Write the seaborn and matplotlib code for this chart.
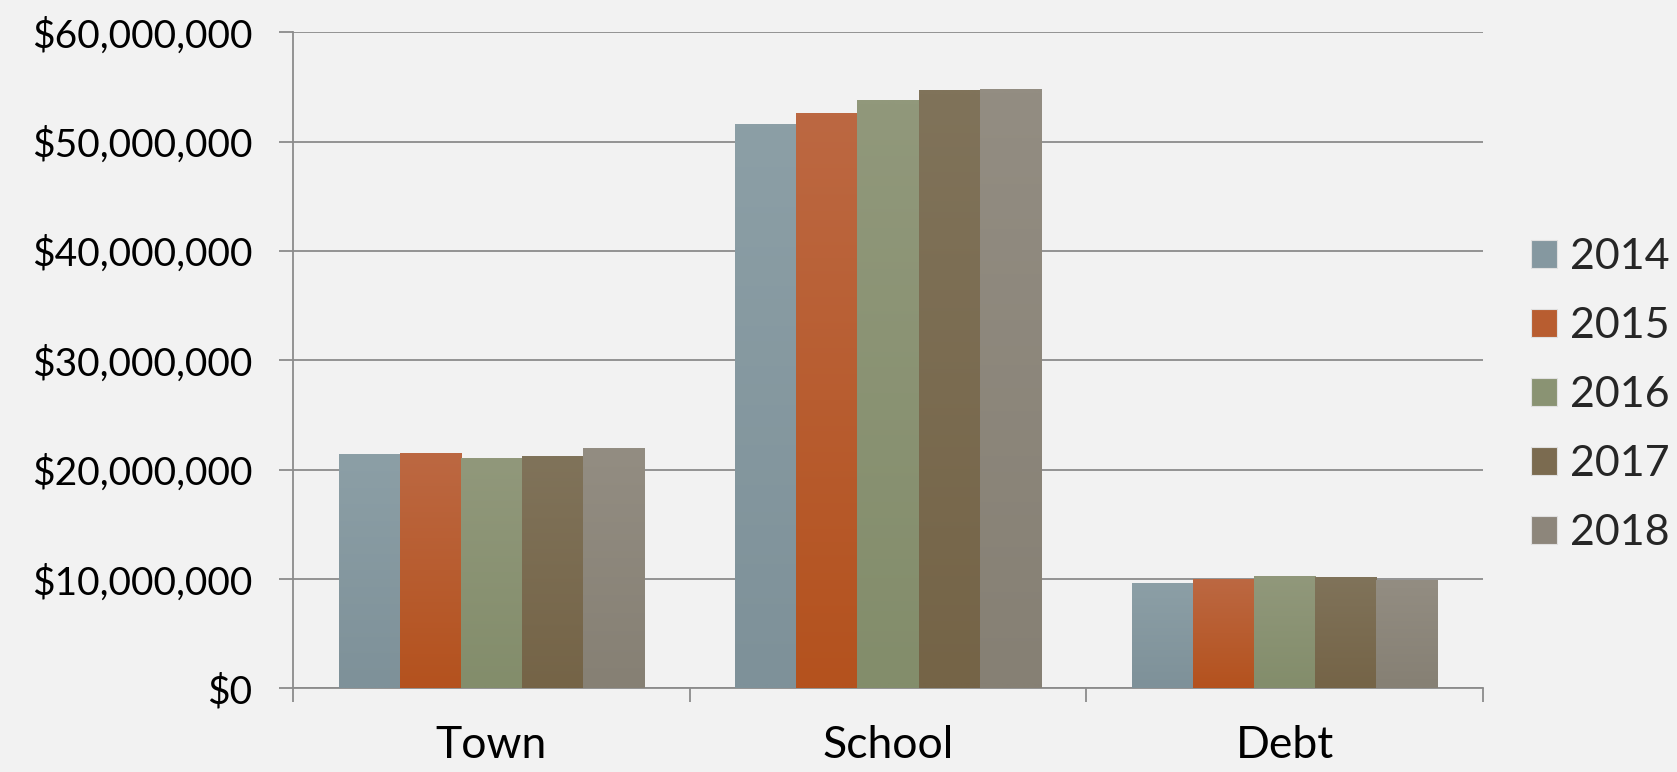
import numpy as np
import pandas as pd
import matplotlib
matplotlib.use("Agg")
import matplotlib.pyplot as plt
import matplotlib.colors as mcolors
from matplotlib.patches import Patch
from matplotlib.ticker import FuncFormatter, FixedLocator
import seaborn as sns

categories = ["Town", "School", "Debt"]
years = ["2014", "2015", "2016", "2017", "2018"]
values_2014 = [21.4e6, 51.6e6, 9.67e6]
values_2015 = [21.5e6, 52.6e6, 10.04e6]
values_2016 = [21.05e6, 53.8e6, 10.28e6]
values_2017 = [21.3e6, 54.75e6, 10.22e6]
values_2018 = [22.0e6, 54.85e6, 9.9e6]
series = [values_2014, values_2015, values_2016, values_2017, values_2018]

top_colors = ["#8c9fa6", "#bc6842", "#91987b", "#80735a", "#938d82"]
bottom_colors = ["#7e9199", "#b4521e", "#838d6b", "#756447", "#868074"]
mid_colors = ["#8598a0", "#b85d30", "#8a9373", "#7b6b50", "#8d867b"]

rows = []
for y, vals in zip(years, series):
    for c, v in zip(categories, vals):
        rows.append({"Category": c, "Year": y, "Value": v})
df = pd.DataFrame(rows)

sns.set_theme(style="white")
plt.rcParams["font.family"] = ["Lato", "DejaVu Sans"]

bg = "#f2f2f2"
fig = plt.figure(figsize=(16.77, 7.72), dpi=100, facecolor=bg)
ax = fig.add_axes([0.1747, 0.1082, 0.7096, 0.8500])
ax.set_facecolor(bg)

sns.barplot(data=df, x="Category", y="Value", hue="Year", order=categories,
            hue_order=years, palette=mid_colors, width=0.77, saturation=1,
            edgecolor="none", linewidth=0, ax=ax, legend=False, zorder=3)

# gradient fill for bars
bars = [p for p in ax.patches]
for i, p in enumerate(bars):
    s = i // len(categories)
    x0, y0 = p.get_x(), p.get_y()
    w, h = p.get_width(), p.get_height()
    c1 = np.array(mcolors.to_rgb(top_colors[s]))
    c2 = np.array(mcolors.to_rgb(bottom_colors[s]))
    t = np.linspace(0, 1, 64)[:, None]
    grad = (c1[None, :] * (1 - t) + c2[None, :] * t)[:, None, :]
    im = ax.imshow(grad, extent=[x0, x0 + w, y0, y0 + h], aspect="auto",
                   origin="upper", zorder=3.5, interpolation="bilinear")
    im.set_clip_path(p)

ax.set_xlim(-0.5, 2.5)
ax.set_ylim(0, 60e6)
ax.set_yticks(np.arange(0, 60e6 + 1, 10e6))
ax.yaxis.set_major_formatter(FuncFormatter(lambda v, _: "${:,.0f}".format(v)))
ax.grid(axis="y", color="#8c8c8c", linewidth=1.3, zorder=0)
ax.set_axisbelow(True)

ax.xaxis.set_major_locator(FixedLocator([-0.5, 0.5, 1.5, 2.5]))
ax.xaxis.set_minor_locator(FixedLocator([0, 1, 2]))
ax.set_xticklabels([])
ax.set_xticklabels(categories, minor=True)
ax.tick_params(axis="x", which="major", length=10, width=1.3, color="#8c8c8c", direction="out", bottom=True)
ax.tick_params(axis="x", which="minor", length=0, pad=26, labelsize=32, labelcolor="black")
ax.tick_params(axis="y", which="major", length=10, width=1.3, color="#8c8c8c", direction="out", left=True,
               pad=19, labelsize=28, labelcolor="black")

for side in ["top", "right"]:
    ax.spines[side].set_visible(False)
for side in ["left", "bottom"]:
    ax.spines[side].set_color("#8c8c8c")
    ax.spines[side].set_linewidth(1.3)
ax.set_xlabel("")
ax.set_ylabel("")

handles = [Patch(facecolor=c, edgecolor="#e0e0e0", linewidth=0.8) for c in mid_colors]
ax.legend(handles, years, loc="center left", bbox_to_anchor=(1.04, 0.447), frameon=False,
          fontsize=31, handlelength=0.62, handleheight=0.62, handletextpad=0.3,
          labelspacing=0.72, borderpad=0, borderaxespad=0)

fig.savefig("out.png", dpi=100, facecolor=bg)
